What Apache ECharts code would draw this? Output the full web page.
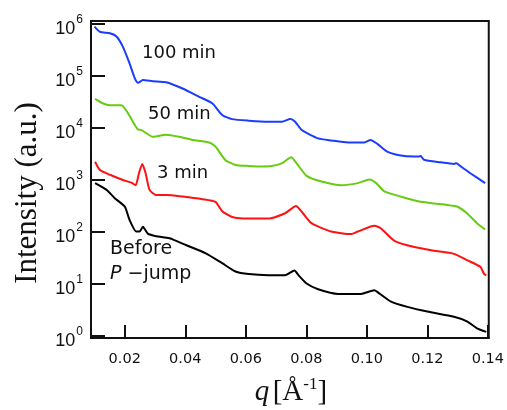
<!DOCTYPE html>
<html><head><meta charset="utf-8">
<script src="https://cdn.jsdelivr.net/npm/echarts@6/dist/echarts.min.js"></script>
<style>html,body{margin:0;padding:0;background:#fff}#c{width:507px;height:410px}</style>
</head><body><div id="c"></div>
<script>
// ---- data ----
const xTicks = [0.02, 0.04, 0.06, 0.08, 0.10, 0.12, 0.14];
const yTicks = [1, 10, 100, 1000, 10000, 100000, 1000000];

const qBlue = [0.0100,0.0118,0.0151,0.0173,0.0194,0.0216,0.0233,0.0244,0.0260,0.0293,0.0337,0.0391,0.0446,0.0490,0.0522,0.0555,0.0610,0.0675,0.0719,0.0747,0.0763,0.0785,0.0839,0.0883,0.0938,0.0992,0.1012,0.1036,0.1069,0.1124,0.1173,0.1178,0.1189,0.1244,0.1288,0.1296,0.1309,0.1342,0.1391];
const iBlue = [891000,708000,661000,575000,363000,174000,91200,74100,83200,79400,75900,57500,39800,29500,17800,14800,13800,13200,13200,14800,13200,9120,6310,5750,5250,5250,5890,4900,3470,2880,2820,2900,2450,2190,2040,2100,1850,1350,871];

const qGreen = [0.0102,0.0129,0.0151,0.0189,0.0211,0.0233,0.0244,0.0255,0.0271,0.0293,0.0337,0.0380,0.0424,0.0479,0.0500,0.0533,0.0566,0.0610,0.0643,0.0686,0.0719,0.0750,0.0768,0.0801,0.0850,0.0916,0.0970,0.1009,0.1031,0.1058,0.1113,0.1178,0.1266,0.1298,0.1331,0.1364,0.1391];
const iGreen = [36300,29500,27500,27500,19100,11500,9330,9120,7940,6760,7410,6760,5890,5250,4370,2400,1950,1860,1820,1860,2090,2750,2090,1200,933,794,871,1020,871,603,479,380,331,309,229,148,112];

const qRed = [0.0102,0.0118,0.0151,0.0194,0.0222,0.0236,0.0247,0.0258,0.0269,0.0282,0.0304,0.0337,0.0391,0.0457,0.0500,0.0522,0.0555,0.0610,0.0675,0.0730,0.0766,0.0785,0.0817,0.0883,0.0949,0.0970,0.1025,0.1047,0.1091,0.1157,0.1222,0.1288,0.1331,0.1375,0.1388,0.1395];
const iRed = [2240,1550,1260,1000,891,794,1350,2040,1350,646,513,513,479,427,380,251,195,182,182,229,316,245,148,102,91.2,102,132,117,67.6,51.3,43.7,38.0,28.8,21.4,15.5,14.8];

const qBlack = [0.0102,0.0140,0.0167,0.0200,0.0216,0.0238,0.0249,0.0260,0.0276,0.0304,0.0348,0.0402,0.0468,0.0522,0.0566,0.0610,0.0675,0.0730,0.0761,0.0774,0.0801,0.0839,0.0905,0.0981,0.1025,0.1041,0.1080,0.1134,0.1200,0.1288,0.1331,0.1364,0.1395];
const iBlack = [871,646,447,309,170,102,102,126,93.3,83.2,75.9,56.2,38.9,25.1,17.4,15.5,14.8,14.8,18.2,14.8,10.2,7.94,6.46,6.46,7.59,6.61,4.57,3.63,2.95,2.34,1.91,1.41,1.20];

const seriesNames = ['100 min', '50 min', '3 min', 'Before P-jump'];
// ---------------

const zip = (q, v) => q.map((x, i) => [x, v[i]]);
const sans = 'DejaVu Sans';
const mkLine = (name, q, v, color) => ({
  name, type: 'line', data: zip(q, v), showSymbol: false, smooth: 0.2,
  lineStyle: { color, width: 2 }, silent: true, animation: false
});

const chart = echarts.init(document.getElementById('c'), null, { renderer: 'canvas' });
chart.setOption({
  animation: false,
  grid: { left: 91, right: 15, top: 21, bottom: 72, show: true, borderColor: '#111', borderWidth: 2, backgroundColor: 'transparent' },
  xAxis: {
    type: 'value', min: 0.00885, max: 0.1403,
    axisLine: { show: true, lineStyle: { color: '#111', width: 2 } },
    axisTick: { show: true, inside: true, length: 13, lineStyle: { color: '#111', width: 2 }, customValues: xTicks },
    axisLabel: { customValues: xTicks, color: '#111', fontFamily: sans, fontSize: 14.5, margin: 14,
      formatter: v => v.toFixed(2) },
    splitLine: { show: false }
  },
  yAxis: {
    type: 'log', logBase: 10, min: 0.916, max: 1.14e6,
    axisLine: { show: true, lineStyle: { color: '#111', width: 2 } },
    axisTick: { show: true, inside: true, length: 14, lineStyle: { color: '#111', width: 2 }, customValues: yTicks },
    axisLabel: { customValues: yTicks, margin: 8,
      formatter: v => '{b|10}{e|' + Math.round(Math.log10(v)) + '}',
      rich: {
        b: { fontFamily: 'Liberation Sans Narrow, Liberation Sans', fontSize: 18, color: '#111', padding: [10, 0, 0, 0] },
        e: { fontFamily: 'Liberation Sans Narrow, Liberation Sans', fontSize: 12, color: '#111', padding: [0, 0, 8, 1] }
      } },
    splitLine: { show: false }
  },
  series: [
    mkLine(seriesNames[0], qBlue, iBlue, '#1a3cff'),
    mkLine(seriesNames[1], qGreen, iGreen, '#66cc11'),
    mkLine(seriesNames[2], qRed, iRed, '#ff1111'),
    mkLine(seriesNames[3], qBlack, iBlack, '#000000')
  ],
  graphic: [
    { type: 'text', left: 142, top: 44, style: { text: '100 min', font: '18px "DejaVu Sans"', fill: '#111' } },
    { type: 'text', left: 148, top: 105, style: { text: '50 min', font: '18px "DejaVu Sans"', fill: '#111' } },
    { type: 'text', left: 157, top: 164, style: { text: '3 min', font: '18px "DejaVu Sans"', fill: '#111' } },
    { type: 'text', left: 110, top: 240, style: { text: 'Before', font: '19px "DejaVu Sans"', fill: '#111' } },
    { type: 'text', left: 110, top: 265, style: { text: '{i|P} −jump', fill: '#111',
        rich: { i: { fontFamily: 'DejaVu Sans', fontStyle: 'italic', fontSize: 19 } },
        font: '19px "DejaVu Sans"' } },
    { type: 'text', x: 28, y: 193, rotation: Math.PI / 2,
      style: { text: 'Intensity (a.u.)', font: '31px "Liberation Serif"', fill: '#111', align: 'center', verticalAlign: 'middle' } },
    { type: 'text', x: 291, y: 392,
      style: { text: '{q|q} {t|[Å}{s|-1}{t|]}', fill: '#111', align: 'center', verticalAlign: 'middle',
        rich: {
          q: { fontFamily: 'Liberation Serif', fontStyle: 'italic', fontSize: 29 },
          t: { fontFamily: 'Liberation Serif', fontSize: 29 },
          s: { fontFamily: 'Liberation Serif', fontSize: 17, padding: [0, 0, 14, 0] }
        } } }
  ]
});
</script></body></html>
